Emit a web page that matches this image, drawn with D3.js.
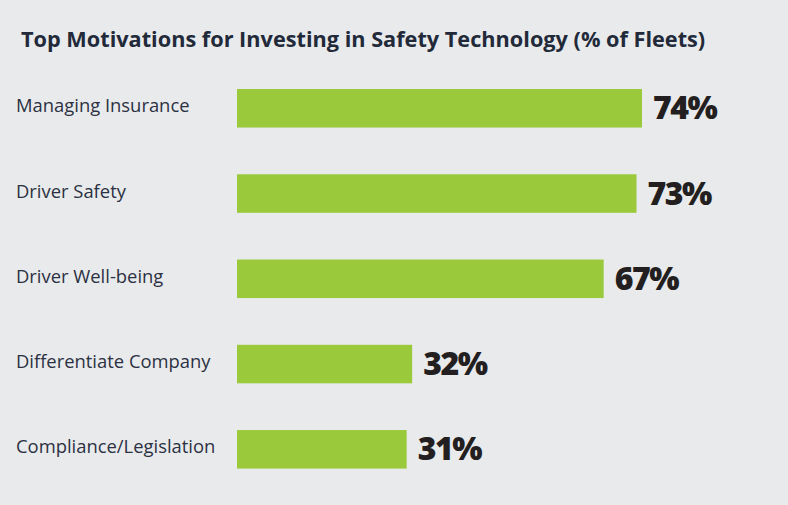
<!DOCTYPE html>
<html>
<head>
<meta charset="utf-8">
<script src="https://cdn.jsdelivr.net/npm/d3@7"></script>
<style>
  html, body { margin: 0; padding: 0; background: #e9eaec; }
  svg { display: block; }
</style>
</head>
<body>
<svg width="788" height="505"></svg>
<script>
  const categories = [
    "Managing Insurance",
    "Driver Safety",
    "Driver Well-being",
    "Differentiate Company",
    "Compliance/Legislation",
  ];
  const values = [74, 73, 67, 32, 31];
  const valueLabels = ["74%", "73%", "67%", "32%", "31%"];

  const data = categories.map((name, i) => ({ name, value: values[i], label: valueLabels[i] }));

  const width = 788;
  const height = 505;

  const x = d3.scaleLinear().domain([0, 74]).range([237, 642]);

  const y = d3
    .scaleBand()
    .domain(categories)
    .range([66, 491.6])
    .paddingInner(0.548)
    .paddingOuter(0.27);

  const svg = d3.select("svg");

  svg.append("rect").attr("width", width).attr("height", height).attr("fill", "#e9eaec");

  svg.append("text")
    .attr("x", 21)
    .attr("y", 47)
    .attr("fill", "#222a3a")
    .attr("font-family", "Open Sans")
    .attr("font-weight", 700)
    .attr("font-size", 21.7)
    .text("Top Motivations for Investing in Safety Technology (% of Fleets)");

  svg.append("g")
    .attr("fill", "#9aca3c")
    .selectAll("rect")
    .data(data)
    .join("rect")
    .attr("x", x(0))
    .attr("y", (d) => y(d.name))
    .attr("width", (d) => x(d.value) - x(0))
    .attr("height", y.bandwidth());

  svg.append("g")
    .selectAll("text")
    .data(data)
    .join("text")
    .attr("x", 16)
    .attr("y", (d) => y(d.name) + y.bandwidth() / 2 + 4)
    .attr("fill", "#2b3142")
    .attr("font-family", "Open Sans")
    .attr("font-size", 18.4)
    .text((d) => d.name);

  svg.append("g")
    .selectAll("text")
    .data(data)
    .join("text")
    .attr("x", (d) => x(d.value) + 11)
    .attr("y", (d) => y(d.name) + y.bandwidth() / 2 + 11)
    .attr("fill", "#231f20")
    .attr("font-family", "Open Sans")
    .attr("font-weight", 800)
    .attr("font-size", 32)
    .attr("letter-spacing", -1.5)
    .text((d) => d.label);
</script>
</body>
</html>
